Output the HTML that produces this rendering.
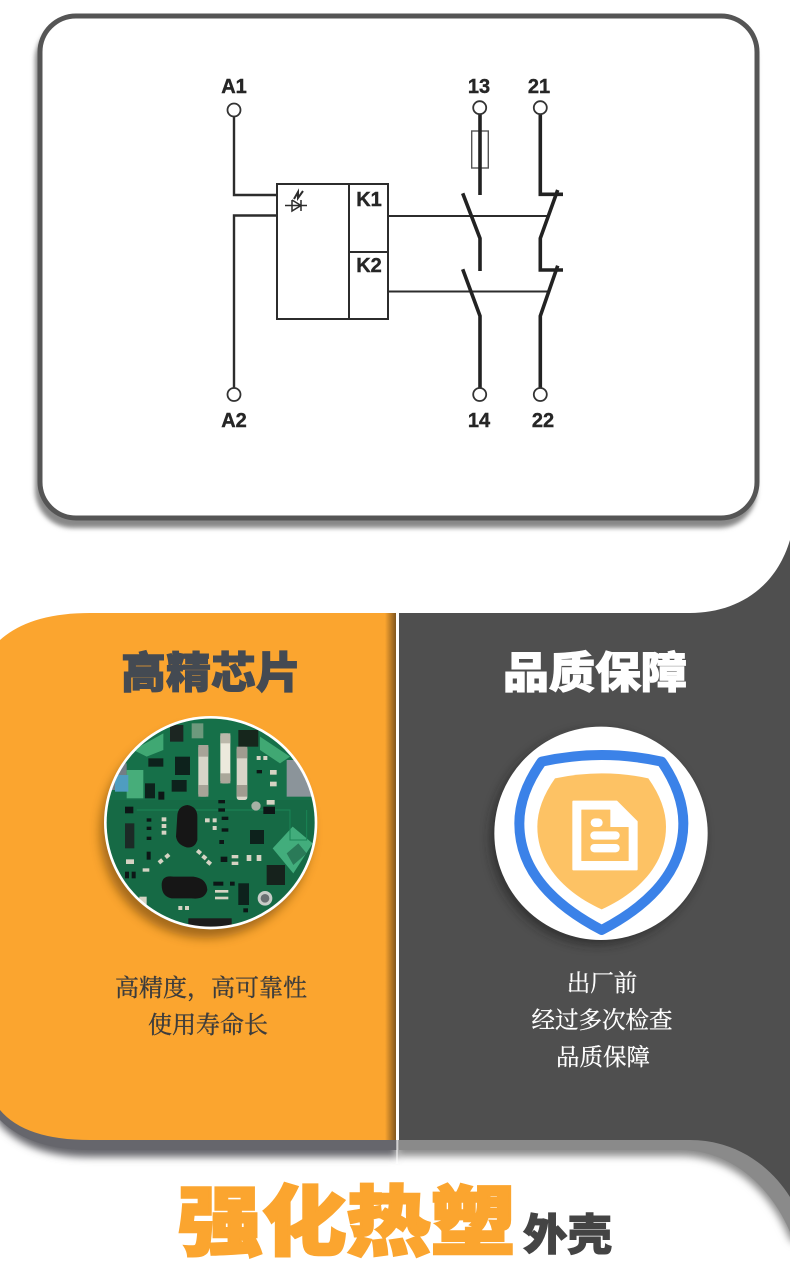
<!DOCTYPE html>
<html lang="zh"><head><meta charset="utf-8"><title>Relay</title>
<style>html,body{margin:0;padding:0;background:#fff}svg{display:block}</style></head>
<body>
<svg xmlns="http://www.w3.org/2000/svg" width="790" height="1272" viewBox="0 0 790 1272" font-family="'Liberation Sans','Noto Sans CJK SC',sans-serif">
<defs>
<filter id="b6" x="-20%" y="-20%" width="140%" height="140%"><feGaussianBlur stdDeviation="5"/></filter>
<filter id="b4" x="-20%" y="-20%" width="140%" height="140%"><feGaussianBlur stdDeviation="4"/></filter>
<filter id="b3" x="-20%" y="-20%" width="140%" height="140%"><feGaussianBlur stdDeviation="2.5"/></filter>
<filter id="b05"><feGaussianBlur stdDeviation="1"/></filter>
<linearGradient id="edge" x1="0" x2="1" y1="0" y2="0"><stop offset="0" stop-color="#fba52f"/><stop offset="1" stop-color="#80561f"/></linearGradient>
<clipPath id="pc"><circle cx="362" cy="368" r="312"/></clipPath>
</defs>
<rect width="790" height="1272" fill="#fff"/>

<!-- bottom shadows -->
<path d="M-20,1090 L0,1125 Q30,1157 90,1157 H397 V1100 H-20 Z" fill="#66666c" filter="url(#b4)"/>
<path d="M399,1100 H810 V1250 L790,1240 C770,1190 730,1156 680,1156 H397 Z" fill="#8a8a8a" filter="url(#b4)"/>
<path d="M0,1100 V1120 Q30,1150 90,1150 H397 V1100 Z" fill="#66666c"/>
<path d="M399,1100 H790 V1232 C770,1185 730,1150 680,1150 H399 Z" fill="#8a8a8a"/>

<!-- dark panel -->
<path d="M399,500 H790 V1197 C770,1165 735,1140 690,1140 H399 Z" fill="#4f4f4f"/>
<!-- top white -->
<path d="M790,520 V540 C775,590 735,613 690,613 H399 V500 H790 Z" fill="#fff"/>

<!-- orange panel -->
<path d="M0,640 Q30,613 90,613 H396 V1140 H90 Q25,1140 0,1110 Z" fill="#fba52f"/>
<rect x="385" y="613" width="11" height="527" fill="url(#edge)"/>
<rect x="396" y="613" width="3" height="527" fill="#fff"/>
<rect x="396" y="1140" width="2" height="24" fill="#fff" opacity=".5"/>

<!-- card -->
<rect x="35" y="22" width="722" height="506" rx="38" fill="#888" filter="url(#b3)"/>
<rect x="40" y="16" width="717" height="502" rx="36" fill="#fff" stroke="#555" stroke-width="5"/>

<!-- diagram -->
<g fill="none" stroke="#2c2c2c">
<path d="M234,116 V195 H277 M277,215.5 H234 V388" stroke-width="2.4"/>
<rect x="277" y="184" width="111" height="135" stroke-width="2"/>
<path d="M349,184 V319 M349,252 H388" stroke-width="2"/>
<path d="M388,216 H548 M388,291.5 H548" stroke-width="2"/>
<g stroke-width="1.5">
<path d="M285,205.5 H307 M292,200 V211 L301,205.5 L292,200 M301,200 V211"/>
<path d="M294,199 L298,192 V198 L303,191" stroke-width="2"/>
</g>
<rect x="471.7" y="131" width="16.6" height="37" stroke="#555" stroke-width="1.4"/>
<g stroke-width="3.6" stroke="#222">
<path d="M480,114 V195"/>
<path d="M462.7,193.3 L480,238.3 V271"/>
<path d="M462.7,269.3 L480,316 V388"/>
<path d="M540.3,114 V194.3 H563"/>
<path d="M557.7,190 L540.3,238.3 V270 H563"/>
<path d="M557.7,265.7 L540.3,316 V388"/>
</g>
<g stroke-width="1.8" stroke="#333" fill="#fff">
<circle cx="234" cy="110" r="6.5"/><circle cx="234" cy="394.5" r="6.5"/>
<circle cx="479.7" cy="107.7" r="6.5"/><circle cx="540.3" cy="107.7" r="6.5"/>
<circle cx="479.7" cy="394.5" r="6.5"/><circle cx="540.3" cy="394.5" r="6.5"/>
</g>
</g>
<g font-size="20" font-weight="700" fill="#262626" stroke="#262626" stroke-width=".4" text-anchor="middle">
<text x="234" y="93">A1</text><text x="234" y="427">A2</text>
<text x="479" y="93">13</text><text x="539" y="93">21</text>
<text x="479" y="427">14</text><text x="543" y="427">22</text>
<text x="369" y="206">K1</text><text x="369" y="272">K2</text>
</g>

<!-- headings -->
<text x="121" y="688" font-size="43" font-weight="900" textLength="180" lengthAdjust="spacingAndGlyphs" fill="#444a52" stroke="#444a52" stroke-width="1" font-family="'Noto Sans CJK SC',sans-serif">高精芯片</text>
<text x="503" y="688" font-size="43" font-weight="900" textLength="184" lengthAdjust="spacingAndGlyphs" fill="#fff" stroke="#fff" stroke-width="1" font-family="'Noto Sans CJK SC',sans-serif">品质保障</text>

<!-- PCB -->
<circle cx="206" cy="832" r="106" fill="#6a430f" opacity=".6" filter="url(#b6)"/>
<g transform="translate(90,700) scale(.33333)">
<circle cx="362" cy="368" r="320" fill="#fff"/>
<g clip-path="url(#pc)" filter="url(#b05)">
<rect x="40" y="40" width="650" height="660" fill="#136a45"/>
<rect x="40" y="40" width="650" height="260" fill="#17704a"/>
<rect x="590" y="180" width="90" height="110" fill="#8b949a"/>
<rect x="40" y="190" width="70" height="80" fill="#737d85"/>
<path d="M130,150 L220,100 L220,150 L170,170Z" fill="#3fa873"/>
<path d="M510,110 L600,170 L570,190 L510,150Z" fill="#3fa873"/>
<rect x="110" y="210" width="50" height="85" fill="#46ad7a"/>
<rect x="75" y="225" width="40" height="50" fill="#4f9dc0"/>
<path d="M548,445 L608,380 L668,430 L610,520Z" fill="#43ad7c"/>
<path d="M590,460 L625,430 L650,460 L610,495Z" fill="#2a7a58"/>
<path d="M140,330 H600 V420 H650 V330" fill="none" stroke="#1a8556" stroke-width="3"/>
<!-- fuses -->
<g>
<rect x="325" y="135" width="30" height="155" rx="8" fill="#d8d5c8"/><rect x="325" y="135" width="30" height="35" fill="#a8a498"/><rect x="325" y="255" width="30" height="35" fill="#a8a498"/>
<rect x="391" y="100" width="30" height="150" rx="8" fill="#ece9dc"/><rect x="391" y="100" width="30" height="30" fill="#bbb8aa"/><rect x="391" y="220" width="30" height="30" fill="#aaa79a"/>
<rect x="440" y="140" width="32" height="160" rx="8" fill="#d8d5c8"/><rect x="440" y="140" width="32" height="35" fill="#a09c90"/><rect x="440" y="255" width="32" height="35" fill="#a09c90"/>
</g>
<!-- black coils -->
<path d="M262,345 Q265,318 292,315 Q322,320 322,350 V420 Q315,445 290,442 Q262,435 258,410Z" fill="#141414"/>
<path d="M215,555 Q215,525 250,530 H310 Q350,535 352,570 Q345,600 305,595 H245 Q215,590 215,555Z" fill="#161616"/>
<rect x="295" y="655" width="130" height="35" fill="#1a1a1c"/>
<rect x="480" y="390" width="42" height="42" fill="#10201a"/>
<rect x="445" y="550" width="32" height="65" fill="#10201a"/>
<rect x="175" y="175" width="45" height="25" fill="#10201a"/><rect x="255" y="170" width="45" height="55" fill="#10201a"/>
<rect x="245" y="240" width="45" height="35" fill="#10201a"/><rect x="165" y="250" width="30" height="45" fill="#10201a"/>
<rect x="105" y="370" width="28" height="75" fill="#1c2a25"/>
<rect x="530" y="495" width="55" height="60" fill="#13231c"/>
<rect x="240" y="75" width="40" height="50" fill="#1c2622"/><rect x="305" y="70" width="35" height="45" fill="#c4c2b0" opacity=".5"/>
<rect x="445" y="90" width="60" height="50" fill="#14281f"/>
<circle cx="525" cy="595" r="22" fill="#c8ccc8"/><circle cx="525" cy="595" r="13" fill="#6a7072"/>
<circle cx="498" cy="318" r="14" fill="#a7b0a4"/>
<!-- small parts -->
<g fill="#d5d3c3">
<rect x="215" y="352" width="14" height="12"/><rect x="215" y="372" width="14" height="12"/><rect x="215" y="392" width="14" height="12"/>
<rect x="345" y="355" width="14" height="12"/><rect x="368" y="355" width="12" height="12"/><rect x="368" y="378" width="12" height="12"/>
<rect x="205" y="478" width="14" height="12" transform="rotate(-40 212 484)"/><rect x="225" y="462" width="14" height="12" transform="rotate(-40 232 468)"/>
<rect x="320" y="450" width="14" height="12" transform="rotate(40 327 456)"/><rect x="336" y="466" width="14" height="12" transform="rotate(40 343 472)"/><rect x="350" y="482" width="14" height="12" transform="rotate(40 357 488)"/>
<rect x="108" y="478" width="24" height="14"/><rect x="470" y="465" width="14" height="18"/><rect x="500" y="465" width="14" height="18"/>
<rect x="540" y="210" width="20" height="14"/><rect x="540" y="245" width="20" height="14"/><rect x="500" y="168" width="12" height="12"/><rect x="520" y="168" width="12" height="12"/>
<rect x="530" y="300" width="24" height="14"/><rect x="148" y="590" width="22" height="24"/>
<rect x="425" y="465" width="20" height="10"/><rect x="425" y="485" width="20" height="10"/><rect x="158" y="505" width="20" height="10"/>
<rect x="375" y="570" width="40" height="8"/><rect x="375" y="590" width="40" height="8"/>
<rect x="265" y="618" width="12" height="12"/><rect x="285" y="618" width="12" height="12"/>
</g>
<g fill="#0d1613">
<rect x="170" y="355" width="14" height="10"/><rect x="170" y="380" width="14" height="10"/><rect x="170" y="410" width="14" height="10"/>
<rect x="385" y="300" width="20" height="10"/><rect x="385" y="325" width="20" height="10"/><rect x="395" y="350" width="20" height="10"/><rect x="395" y="385" width="20" height="10"/>
<rect x="388" y="420" width="14" height="12"/><rect x="392" y="470" width="20" height="16"/><rect x="170" y="455" width="12" height="24"/>
<rect x="370" y="545" width="30" height="12"/><rect x="420" y="545" width="14" height="12"/><rect x="460" y="625" width="14" height="12"/>
<rect x="520" y="320" width="35" height="22"/><rect x="205" y="275" width="18" height="24"/><rect x="500" y="210" width="16" height="10"/>
<rect x="105" y="320" width="25" height="20"/><rect x="105" y="515" width="12" height="20"/><rect x="125" y="515" width="12" height="20"/>
</g>
</g>
</g>

<!-- shield -->
<circle cx="597" cy="838" r="107" fill="#1e1e1e" opacity=".55" filter="url(#b6)"/>
<g transform="translate(480,710) scale(.33333)">
<circle cx="363" cy="370" r="320" fill="#fff"/>
<path d="M185,155 Q365,115 545,155 Q610,250 610,340 C610,500 480,600 365,660 C250,600 118,500 118,340 Q118,250 185,155Z" fill="none" stroke="#3b82e8" stroke-width="30" stroke-linejoin="round"/>
<path d="M225,205 Q365,175 505,205 Q558,280 558,350 C558,480 450,560 365,598 C280,560 172,480 172,350 Q172,280 225,205Z" fill="#fdc264"/>
<path d="M280,275 H410 L470,335 V478 H280 Z" fill="#fff" stroke="#fff" stroke-width="6" stroke-linejoin="round"/>
<path d="M305,300 H390 V352 H445 V452 H305 Z" fill="#fdc264" stroke="#fdc264" stroke-width="2" stroke-linejoin="round"/>
<rect x="332" y="325" width="36" height="26" rx="13" fill="#fff"/>
<rect x="331" y="364" width="88" height="25" rx="12" fill="#fff"/>
<rect x="331" y="402" width="88" height="25" rx="12" fill="#fff"/>
</g>

<!-- body text -->
<g font-family="'Liberation Serif','Noto Serif CJK SC',serif" font-size="24" fill="#3c3c3c" stroke="#3c3c3c" stroke-width=".35" text-anchor="middle">
<text x="211" y="996">高精度，高可靠性</text>
<text x="208" y="1033">使用寿命长</text>
</g>
<g font-family="'Liberation Serif','Noto Serif CJK SC',serif" font-size="23.5" fill="#fff" stroke="#fff" stroke-width=".3" text-anchor="middle">
<text x="602" y="991">出厂前</text>
<text x="602" y="1028">经过多次检查</text>
<text x="603" y="1065">品质保障</text>
</g>

<!-- bottom title -->
<text x="178" y="1249" font-size="76" font-weight="900" textLength="337" lengthAdjust="spacingAndGlyphs" fill="#fba52f" stroke="#fba52f" stroke-width="2.5" font-family="'Noto Sans CJK SC',sans-serif">强化热塑</text>
<text x="523" y="1250" font-size="43" font-weight="900" textLength="89" lengthAdjust="spacingAndGlyphs" fill="#444" stroke="#444" stroke-width="1" font-family="'Noto Sans CJK SC',sans-serif">外壳</text>
</svg>
</body></html>
